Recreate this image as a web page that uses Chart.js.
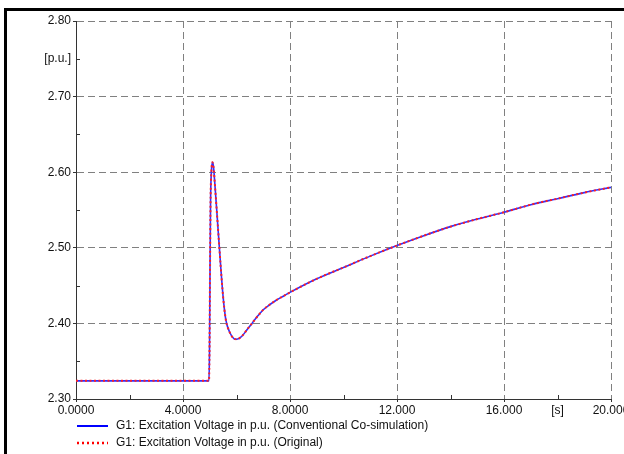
<!DOCTYPE html>
<html>
<head>
<meta charset="utf-8">
<script src="https://cdn.jsdelivr.net/npm/chart.js@4"></script>
<style>
  html, body { margin: 0; padding: 0; background: #fff; }
  #wrap { width: 624px; height: 454px; }
</style>
</head>
<body>
<div id="wrap"><canvas id="exc" width="624" height="454"></canvas></div>
<script>
// time in seconds
const times = [0, 2, 4, 4.97, 4.99, 5.01, 5.03, 5.06, 5.1, 5.14, 5.2, 5.3, 5.4, 5.5, 5.6, 5.75, 5.9, 6.0,
  6.2, 6.4, 6.6, 6.8, 7.0, 7.25, 7.5, 7.75, 8.0, 9.0, 10.0, 11.0, 12.0, 13.0, 14.0, 15.0, 16.0, 17.0, 18.0, 19.0, 20.0]
// excitation voltage [p.u.]
const conventional = [2.324, 2.324, 2.324, 2.324, 2.36, 2.47, 2.56, 2.60, 2.613, 2.607, 2.58, 2.53, 2.48, 2.435, 2.405, 2.388, 2.380, 2.379,
  2.383, 2.392, 2.401, 2.410, 2.418, 2.425, 2.431, 2.436, 2.441, 2.459, 2.474, 2.489, 2.503, 2.516, 2.528, 2.538, 2.547, 2.557, 2.565, 2.573, 2.580]
const original = [2.324, 2.324, 2.324, 2.324, 2.36, 2.47, 2.56, 2.60, 2.613, 2.607, 2.58, 2.53, 2.48, 2.435, 2.405, 2.388, 2.380, 2.379,
  2.383, 2.392, 2.401, 2.410, 2.418, 2.425, 2.431, 2.436, 2.441, 2.459, 2.474, 2.489, 2.503, 2.516, 2.528, 2.538, 2.547, 2.557, 2.565, 2.573, 2.580]

const xLabels = { 0: "0.0000", 4: "4.0000", 8: "8.0000", 12: "12.000", 16: "16.000", 18: "[s]", 20: "20.000" }
const yUnit = "[p.u.]"
const legendNames = [
  "G1: Excitation Voltage in p.u. (Conventional Co-simulation)",
  "G1: Excitation Voltage in p.u. (Original)",
]

const FONT = "'Liberation Sans', Arial, sans-serif"
const GRID = "#808080"

const pts = (vals) => times.map((t, i) => ({ x: t, y: vals[i] }))

// black frame + inner minor ticks + legend
const extras = {
  id: "extras",
  beforeDraw(chart) {
    const ctx = chart.ctx
    ctx.save()
    ctx.fillStyle = "#000"
    ctx.fillRect(4, 8, 620, 3)
    ctx.fillRect(4, 8, 3, 446)
    ctx.restore()
  },
  afterDraw(chart) {
    const { ctx, chartArea, scales } = chart
    ctx.save()
    ctx.strokeStyle = "#333"
    ctx.lineWidth = 1
    ctx.beginPath()
    ;[2, 6, 10, 14, 18].forEach((v) => {
      const px = Math.round(scales.x.getPixelForValue(v)) + 0.5
      ctx.moveTo(px, chartArea.bottom)
      ctx.lineTo(px, chartArea.bottom - 4)
    })
    ;[2.35, 2.45, 2.55, 2.65, 2.75].forEach((v) => {
      const py = Math.round(scales.y.getPixelForValue(v)) + 0.5
      ctx.moveTo(chartArea.left, py)
      ctx.lineTo(chartArea.left + 4, py)
    })
    ctx.stroke()

    // legend
    const lx = chartArea.left + 1
    const rows = [426, 443]
    ctx.lineWidth = 2
    ctx.strokeStyle = "#0000ff"
    ctx.beginPath()
    ctx.moveTo(lx, rows[0])
    ctx.lineTo(lx + 31, rows[0])
    ctx.stroke()
    ctx.lineWidth = 2.5
    ctx.strokeStyle = "#ff0000"
    ctx.setLineDash([2, 3])
    ctx.beginPath()
    ctx.moveTo(lx, rows[1])
    ctx.lineTo(lx + 31, rows[1])
    ctx.stroke()
    ctx.setLineDash([])
    ctx.fillStyle = "#111"
    ctx.font = "12px " + FONT
    ctx.textBaseline = "middle"
    ctx.fillText(legendNames[0], lx + 39, rows[0])
    ctx.fillText(legendNames[1], lx + 39, rows[1])
    ctx.restore()
  },
}

new Chart(document.getElementById("exc"), {
  type: "line",
  data: {
    datasets: [
      {
        label: legendNames[1],
        data: pts(original),
        borderColor: "#ff2020",
        borderWidth: 2,
        borderDash: [2, 2.5],
        pointRadius: 0,
        cubicInterpolationMode: "monotone",
      },
      {
        label: legendNames[0],
        data: pts(conventional),
        borderColor: "#3030ff",
        borderWidth: 1.6,
        pointRadius: 0,
        cubicInterpolationMode: "monotone",
      },
    ],
  },
  options: {
    responsive: false,
    animation: false,
    layout: { padding: { left: 0, top: 21, right: 13, bottom: 0 } },
    plugins: { legend: { display: false }, tooltip: { enabled: false } },
    scales: {
      x: {
        type: "linear",
        min: 0,
        max: 20,
        ticks: {
          stepSize: 2,
          autoSkip: false,
          maxRotation: 0,
          padding: 1,
          color: "#111",
          font: { family: FONT, size: 12 },
          callback: (v) => (xLabels[v] !== undefined ? xLabels[v] : ""),
        },
        grid: {
          color: (c) => (c.tick && c.tick.value % 4 === 0 ? GRID : "rgba(0,0,0,0)"),
          tickLength: 3,
          tickColor: (c) => (c.tick && c.tick.value % 4 === 0 ? "#333" : "rgba(0,0,0,0)"),
          tickBorderDash: [0, 0],
        },
        border: { display: true, color: "#333", width: 1, dash: [7, 4] },
        afterFit: (s) => {
          s.height = 55
          s.paddingLeft = 0
          s.paddingRight = 0
        },
      },
      y: {
        min: 2.3,
        max: 2.8,
        ticks: {
          stepSize: 0.05,
          autoSkip: false,
          padding: 2,
          color: "#111",
          font: { family: FONT, size: 12 },
          callback: (v) => {
            const k = Math.round(v * 100)
            if (k % 10 === 0) return v.toFixed(2)
            if (k === 275) return yUnit
            return ""
          },
        },
        grid: {
          color: (c) => (c.tick && Math.round(c.tick.value * 100) % 10 === 0 ? GRID : "rgba(0,0,0,0)"),
          tickLength: 3,
          tickColor: (c) => (c.tick && Math.round(c.tick.value * 100) % 10 === 0 ? "#333" : "rgba(0,0,0,0)"),
          tickBorderDash: [0, 0],
        },
        border: { display: true, color: "#333", width: 1, dash: [7, 4] },
        afterFit: (s) => {
          s.width = 76
          s.paddingTop = 0
          s.paddingBottom = 0
        },
      },
    },
  },
  plugins: [extras],
})
</script>
</body>
</html>
